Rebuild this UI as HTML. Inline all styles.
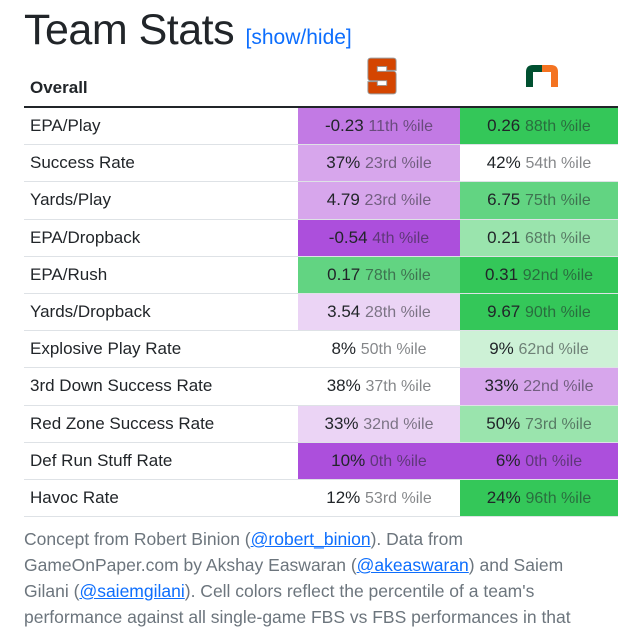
<!DOCTYPE html>
<html><head><meta charset="utf-8">
<style>
body{margin:0;background:#fff;font-family:"Liberation Sans",sans-serif;color:#212529;}
#wrap{position:absolute;left:24px;top:0;width:594px;}
h1{margin:0;position:absolute;top:6px;left:0;font-size:43px;font-weight:400;letter-spacing:-0.5px;white-space:nowrap;}
h1 a{font-size:21px;color:#0d6efd;text-decoration:none;letter-spacing:0;}
table{position:absolute;top:48px;left:0;width:594px;border-collapse:collapse;font-size:17px;}
th{height:44px;text-align:left;vertical-align:bottom;padding:0 0 8px 6px;border-bottom:2px solid #212529;font-size:17px;}
td{height:36.2px;padding:0;border-bottom:1px solid #dee2e6;}
td.lab{padding-left:6px;width:268px;}
td.v{text-align:center;width:162px;}
td.v2{width:158px;}
.p{opacity:.55;font-size:16px;}
#foot{position:absolute;top:526px;left:0;width:610px;font-size:17.5px;line-height:26px;color:#6c757d;white-space:nowrap;}
#foot a{color:#0d6efd;}
</style></head><body>
<div id="wrap">
<h1>Team Stats <a href="#">[show/hide]</a></h1>
<table>
<thead><tr>
<th style="height:39px">Overall</th>
<th style="text-align:center;padding-bottom:6px"><svg width="32" height="38" viewBox="0 0 34 40"><path d="M5 1h24q3 0 3 3v10h-10v-4h-10v5h17q3 0 3 3v18q0 3-3 3H5q-3 0-3-3V26h10v4h10v-5H5q-3 0-3-3V4q0-3 3-3z" fill="#d44500" stroke="#999" stroke-width="1"/></svg></th>
<th style="text-align:center;padding-bottom:14px"><svg width="38" height="24" viewBox="0 0 34 24"><path d="M1 24V9q0-7 7-7h9v7h-9v15z" fill="#005030"/><path d="M17 2h9q7 0 7 7v15h-7V9h-9z" fill="#f47321"/></svg></th>
</tr></thead>
<tbody id="tb"></tbody>
</table>
<div id="foot">Concept from Robert Binion (<a href="#">@robert_binion</a>). Data from<br>GameOnPaper.com by Akshay Easwaran (<a href="#">@akeaswaran</a>) and Saiem<br>Gilani (<a href="#">@saiemgilani</a>). Cell colors reflect the percentile of a team's<br>performance against all single-game FBS vs FBS performances in that</div>
</div>
<script>
const stats=["EPA/Play","Success Rate","Yards/Play","EPA/Dropback","EPA/Rush","Yards/Dropback","Explosive Play Rate","3rd Down Success Rate","Red Zone Success Rate","Def Run Stuff Rate","Havoc Rate"];
const syrValues=["-0.23","37%","4.79","-0.54","0.17","3.54","8%","38%","33%","10%","12%"];
const syrPct=[11,23,23,4,78,28,50,37,32,0,53];
const miaValues=["0.26","42%","6.75","0.21","0.31","9.67","9%","33%","50%","6%","24%"];
const miaPct=[88,54,75,68,92,90,62,22,73,0,96];
function sfx(n){const m=n%100;if(m>=11&&m<=13)return n+"th";return n+(["th","st","nd","rd"][n%10]||"th");}
function col(p){if(p<=5)return"#ac4fdc";if(p<=15)return"#c27ae4";if(p<=25)return"#d7a6ec";if(p<=35)return"#ebd4f5";if(p<=58)return"#ffffff";if(p<=65)return"#cdf1d6";if(p<=74)return"#9ae4ad";if(p<=85)return"#62d482";return"#34c759";}
const tb=document.getElementById('tb');
stats.forEach((s,i)=>{
 const tr=document.createElement('tr');
 
 
 const a=document.createElement('td');a.className='lab';a.textContent=s;
 
 
 tr.appendChild(a);
 [[syrValues,syrPct,'syracuse'],[miaValues,miaPct,'miami']].forEach(([v,p,t],k)=>{
  const c=document.createElement('td');c.className='v'+(k?' v2':'');
  c.style.background=col(p[i]);
  c.innerHTML=v[i]+' <span class="p">'+sfx(p[i])+' %ile</span>';
  
  
  tr.appendChild(c);
 });
 tb.appendChild(tr);
});
</script>
</body></html>
